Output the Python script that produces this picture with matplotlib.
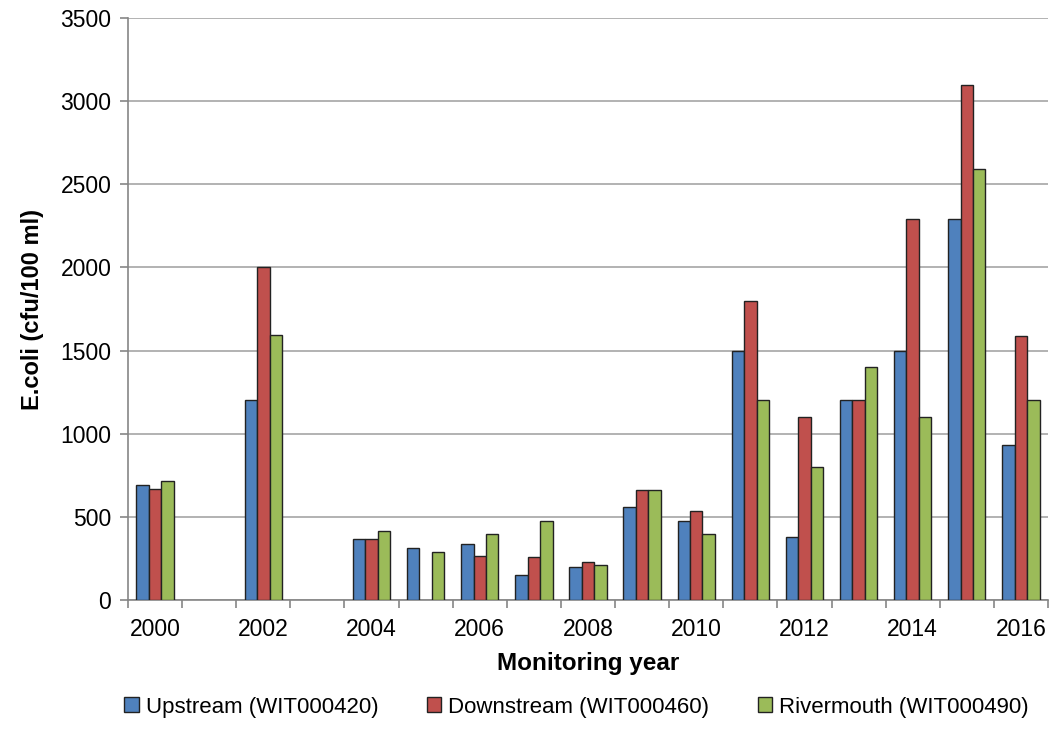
import numpy as np
import matplotlib
matplotlib.use('Agg')
import matplotlib.pyplot as plt

years = list(range(2000, 2017))
tick_years = ['2000', '2002', '2004', '2006', '2008', '2010', '2012', '2014', '2016']

# NaN where no sample that year
upstream = [690, np.nan, 1200, np.nan, 367, 315, 337, 150, 200, 557, 475, 1500, 381, 1200, 1500, 2290, 935]
downstream = [665, np.nan, 2000, np.nan, 367, np.nan, 263, 257, 230, 661, 535, 1800, 1100, 1200, 2290, 3100, 1590]
rivermouth = [715, np.nan, 1595, np.nan, 417, 287, 397, 475, 208, 661, 397, 1200, 800, 1400, 1100, 2590, 1200]

series = [
    ('Upstream (WIT000420)', upstream, '#4F81BD'),
    ('Downstream (WIT000460)', downstream, '#C0504D'),
    ('Rivermouth (WIT000490)', rivermouth, '#9BBB59'),
]

plt.rcParams['font.family'] = ['Liberation Sans', 'DejaVu Sans']

fig = plt.figure(figsize=(10.56, 7.52), dpi=100)
ax = fig.add_axes([128/1056, 1 - 600/752, 920/1056, 582/752])

x = np.arange(len(years))
w = 0.23
for i, (name, vals, col) in enumerate(series):
    ax.bar(x + (i - 1) * w, vals, width=w, color=col, edgecolor='#222222',
           linewidth=1.0, label=name, zorder=3)

ax.set_xlim(-0.5, len(years) - 0.5)
ax.set_ylim(0, 3500)
ax.set_yticks(np.arange(0, 3501, 500))
ax.yaxis.grid(True, color='#A6A6A6', linewidth=1.2, zorder=0)

ax.set_xticks(np.arange(-0.5, len(years), 1.0))
ax.set_xticklabels([])
ax.set_xticks(np.arange(0, len(years), 2), minor=True)
ax.set_xticklabels(tick_years, minor=True)
ax.tick_params(axis='x', which='minor', length=0, pad=13, labelsize=16.5)
ax.tick_params(axis='x', which='major', length=6, color='#868686', width=1.2)
ax.tick_params(axis='y', length=6, color='#868686', width=1.2, labelsize=16.5, pad=6)

for s in ['top', 'right']:
    ax.spines[s].set_visible(False)
for s in ['left', 'bottom']:
    ax.spines[s].set_color('#868686')
    ax.spines[s].set_linewidth(1.2)

ax.set_xlabel('Monitoring year', fontsize=17.5, fontweight='bold', labelpad=8)
ax.set_ylabel('E.coli (cfu/100 ml)', fontsize=17, fontweight='bold', labelpad=12)

fig.legend(loc='center', bbox_to_anchor=(0.546, 1 - 707/752), ncol=3, frameon=False,
           prop={'size': 16},
           handlelength=0.65, handleheight=0.65, handletextpad=0.3, columnspacing=2.2)

fig.savefig('out.png', dpi=100)
